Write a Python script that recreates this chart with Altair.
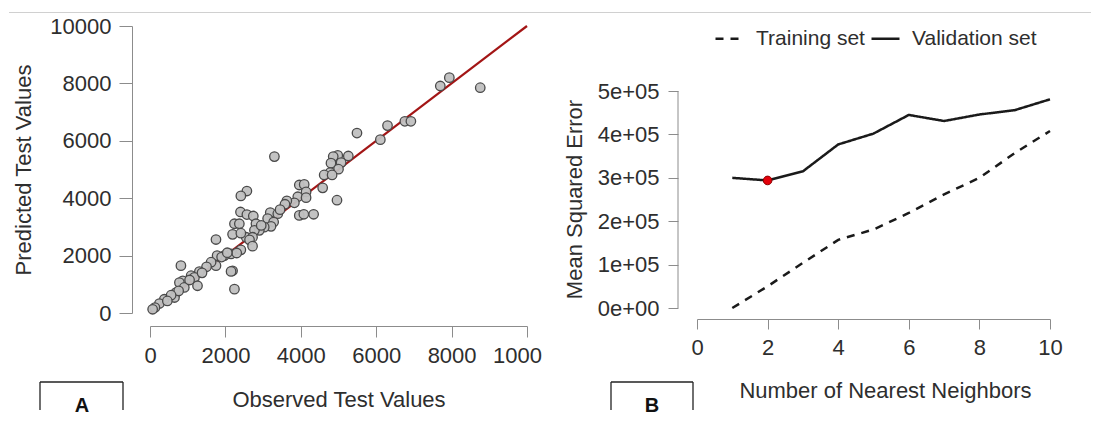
import altair as alt
import pandas as pd

# ---- Panel A data: observed vs predicted test values ----
obs = [7700, 7940, 8760, 6760, 6920, 6300, 6110, 5490, 3300, 5260, 4980, 4860, 4800, 5070,
       5000, 4780, 4620, 4830, 4580, 4960, 3960, 4090, 4140, 3920, 4140, 3830, 3630, 3580,
       3960, 4080, 4340, 2570, 2410, 2400, 2570, 2740, 3190, 3120, 3390, 3280, 3210, 3030,
       2810, 2900, 2770, 2550, 2720, 2240, 2370, 2190, 2410, 2640, 2720, 2410, 2150, 2300,
       1970, 1780, 1750, 1620, 1500, 1750, 820, 1310, 1090, 1180, 1260, 870, 780, 910, 690,
       650, 760, 2190, 2150, 2240, 380, 250, 130, 70, 1050, 1380, 560, 460, 1900, 2050, 3450,
       2950]
pred = [7910, 8200, 7850, 6680, 6680, 6530, 6040, 6270, 5450, 5470, 5490, 5450, 5220, 5240,
        5010, 4890, 4810, 4810, 4360, 3930, 4460, 4480, 4220, 4050, 4020, 3840, 3910, 3790,
        3400, 3440, 3440, 4250, 4080, 3520, 3430, 3380, 3500, 3290, 3460, 3170, 3020, 2990,
        3110, 2880, 2880, 2640, 2640, 3110, 3110, 2740, 2780, 2550, 2330, 2200, 2060, 2090,
        2000, 2000, 1650, 1770, 1610, 2560, 1650, 1440, 1300, 1240, 950, 1120, 1060, 890, 710,
        540, 770, 1470, 1450, 830, 480, 330, 190, 130, 1150, 1400, 620, 420, 1950, 2100, 3600,
        3050]
identity_ends = [0, 10000]
a_ticks = [0, 2000, 4000, 6000, 8000, 10000]

# ---- Panel B data: MSE vs number of nearest neighbors ----
k_values = [1, 2, 3, 4, 5, 6, 7, 8, 9, 10]
train_mse = [0, 50000, 104000, 157000, 181000, 219000, 262000, 300000, 357000, 408000]
valid_mse = [300000, 294000, 315000, 377000, 402000, 445000, 431000, 446000, 456000, 481000]
series_names = ["Training set", "Validation set"]
best_k = 2
b_xticks = [0, 2, 4, 6, 8, 10]
b_yticks = [0, 100000, 200000, 300000, 400000, 500000]
b_ylabels = ["0e+00", "1e+05", "2e+05", "3e+05", "4e+05", "5e+05"]

FONT = "Liberation Sans"
TXT = "#2e2e2e"
AXC = "#8c8c8c"

scatter_df = pd.DataFrame({"obs": obs, "pred": pred})
ident_df = pd.DataFrame({"obs": identity_ends, "pred": identity_ends})
one = pd.DataFrame({"d": [0]})

xs_a = alt.Scale(domain=[0, 10000], nice=False, zero=False)
ys_a = alt.Scale(domain=[0, 10000], nice=False, zero=False)
ax_xa = alt.Axis(values=a_ticks, labelExpr="datum.value == 10000 ? '1000' : format(datum.value, 'd')",
                 offset=13, tickSize=11, labelPadding=8, titlePadding=23, labelFlush=False,
                 labelOffset={"condition": {"test": "datum.value == 10000", "value": -10}, "value": 0},
                 title="Observed Test Values")
ax_ya = alt.Axis(values=a_ticks, format="d", offset=18, tickSize=13, labelPadding=8,
                 titlePadding=14, labelFlush=False, title="Predicted Test Values")

ident = alt.Chart(ident_df).mark_line(color="#a31515", strokeWidth=2.2).encode(
    x=alt.X("obs:Q", scale=xs_a, axis=ax_xa),
    y=alt.Y("pred:Q", scale=ys_a, axis=ax_ya),
)
points = alt.Chart(scatter_df).mark_circle(size=90, fill="#c0c0c0", stroke="#4a4a4a",
                                           strokeWidth=1.3, opacity=1, fillOpacity=0.95).encode(
    x=alt.X("obs:Q", scale=xs_a, axis=ax_xa),
    y=alt.Y("pred:Q", scale=ys_a, axis=ax_ya),
)
top_line = alt.Chart(one).mark_rule(color="#d0d0d0", strokeWidth=1.2).encode(
    x=alt.value(-141), x2=alt.value(941), y=alt.value(-13.5))
boxA_top = alt.Chart(one).mark_rule(color="#222222", strokeWidth=1.3).encode(
    x=alt.value(-110), x2=alt.value(-27), y=alt.value(356))
boxA_l = alt.Chart(one).mark_rule(color="#222222", strokeWidth=1.3).encode(
    x=alt.value(-110), y=alt.value(356), y2=alt.value(384))
boxA_r = alt.Chart(one).mark_rule(color="#222222", strokeWidth=1.3).encode(
    x=alt.value(-27), y=alt.value(356), y2=alt.value(384))
textA = alt.Chart(one).mark_text(text="A", font=FONT, fontSize=20, fontWeight="bold",
                                 color="#111111").encode(x=alt.value(-68), y=alt.value(380))

left = alt.layer(top_line, ident, points, boxA_top, boxA_l, boxA_r, textA).properties(
    width=377, height=287)

# ---- Panel B ----
lines_df = pd.DataFrame({
    "k": k_values + k_values,
    "mse": train_mse + valid_mse,
    "series": [series_names[0]] * len(k_values) + [series_names[1]] * len(k_values),
})
best_df = pd.DataFrame({"k": [best_k], "mse": [valid_mse[k_values.index(best_k)]]})
yaxis_line_df = pd.DataFrame({"mse": [b_yticks[0]], "mse2": [b_yticks[-1]]})

xs_b = alt.Scale(domain=[0, 10], nice=False, zero=False)
ys_b = alt.Scale(domain=[0, 650000], nice=False, zero=False)
label_arr = "[" + ",".join("'" + s + "'" for s in b_ylabels) + "]"
ax_xb = alt.Axis(values=b_xticks, format="d", offset=11, tickSize=10, labelPadding=8,
                 titlePadding=22, titleX=188, labelFlush=False,
                 title="Number of Nearest Neighbors")
ax_yb = alt.Axis(values=b_yticks, labelExpr=label_arr + "[round(datum.value / 100000)]",
                 offset=19, tickSize=10, labelPadding=9, titlePadding=11, titleY=173,
                 labelFlush=False, domain=False, title="Mean Squared Error")

lines = alt.Chart(lines_df).mark_line(strokeWidth=2.5, color="#1a1a1a").encode(
    x=alt.X("k:Q", scale=xs_b, axis=ax_xb),
    y=alt.Y("mse:Q", scale=ys_b, axis=ax_yb),
    strokeDash=alt.StrokeDash(
        "series:N",
        scale=alt.Scale(domain=series_names, range=[[8, 7], [1, 0]]),
        legend=alt.Legend(orient="none", legendX=564, legendY=-3, direction="horizontal",
                          title=None, symbolType="stroke", symbolSize=784,
                          symbolStrokeWidth=2.5, symbolStrokeColor="#1a1a1a",
                          labelFont=FONT, labelFontSize=21, labelColor=TXT,
                          labelOffset=11, columnPadding=1),
    ),
)
best = alt.Chart(best_df).mark_point(filled=True, shape="circle", size=75, fill="#e3000b",
                                     stroke="#8b0000", strokeWidth=1, opacity=1).encode(
    x=alt.X("k:Q", scale=xs_b, axis=ax_xb),
    y=alt.Y("mse:Q", scale=ys_b, axis=ax_yb),
)
yline = alt.Chart(yaxis_line_df).mark_rule(color=AXC, strokeWidth=1).encode(
    x=alt.value(-19),
    y=alt.Y("mse:Q", scale=ys_b, axis=ax_yb),
    y2="mse2:Q",
)
boxB_top = alt.Chart(one).mark_rule(color="#222222", strokeWidth=1.3).encode(
    x=alt.value(-86), x2=alt.value(-4), y=alt.value(356))
boxB_l = alt.Chart(one).mark_rule(color="#222222", strokeWidth=1.3).encode(
    x=alt.value(-86), y=alt.value(356), y2=alt.value(384))
boxB_r = alt.Chart(one).mark_rule(color="#222222", strokeWidth=1.3).encode(
    x=alt.value(-4), y=alt.value(356), y2=alt.value(384))
textB = alt.Chart(one).mark_text(text="B", font=FONT, fontSize=20, fontWeight="bold",
                                 color="#111111").encode(x=alt.value(-45), y=alt.value(380))

right = alt.layer(yline, lines, best, boxB_top, boxB_l, boxB_r, textB).properties(
    width=353, height=282)

chart = alt.hconcat(left, right, spacing=170, bounds="flush").properties(
    padding={"left": 0, "top": 3, "right": 0, "bottom": 0}
).configure_view(stroke=None).configure_axis(
    labelFont=FONT, titleFont=FONT, labelFontSize=22, titleFontSize=22,
    labelColor=TXT, titleColor=TXT, titleFontWeight="normal",
    domainColor=AXC, tickColor=AXC, domainWidth=1, tickWidth=1, grid=False,
)

chart.save("out.html", embed_options={"renderer": "svg", "actions": False})
